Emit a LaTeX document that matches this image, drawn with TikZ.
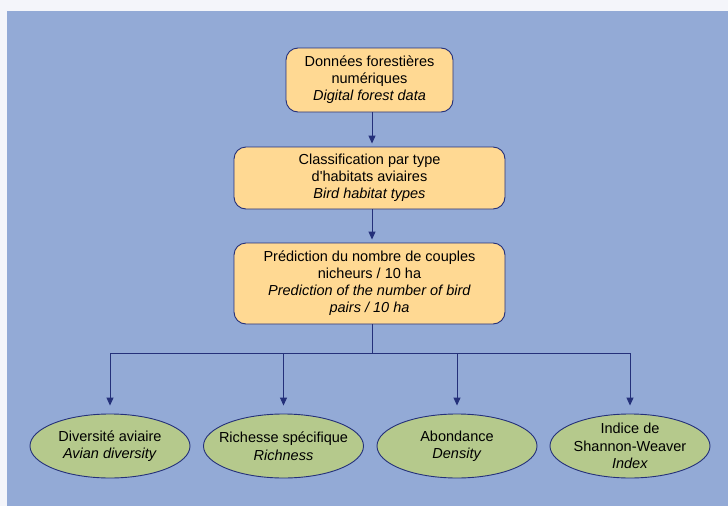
\documentclass[tikz,border=0pt]{standalone}
\usepackage{fontspec}
\setmainfont{Liberation Sans}
\usepackage{tikz}
\usetikzlibrary{calc,shapes,positioning}
\usetikzlibrary{arrows.meta}
\definecolor{pagebg}{HTML}{F4F5FA}
\definecolor{panelbg}{HTML}{93AAD6}
\definecolor{boxfill}{HTML}{FFD993}
\definecolor{ovalfill}{HTML}{B5C98C}
\definecolor{navy}{HTML}{24307A}
\tikzset{>={Triangle[width=7pt,length=8pt]}}

\begin{document}
\begin{tikzpicture}[x=1pt,y=1pt]
      \tikzstyle{pbox} = [draw=navy, line width=0.9pt, fill=boxfill, rounded corners=12pt, align=center, inner sep=2pt, font=\fontsize{14.5}{17}\selectfont]
      \tikzstyle{onode} = [draw=navy, line width=0.9pt, fill=ovalfill, ellipse, align=center, inner xsep=-8pt, inner ysep=-6pt, minimum width=160pt, minimum height=64pt, font=\fontsize{14.5}{17.5}\selectfont]
      \tikzstyle{link} = [navy, line width=1pt]
      % background
      \fill[pagebg] (0,0) rectangle (728,-506);
      \fill[panelbg] (7,-11) rectangle (728,-506);
      \useasboundingbox (0,0) rectangle (728,-506);

      \node[pbox, minimum width=167pt, minimum height=64pt] (fdata) at (369.5,-80) {Données forestières\\numériques\\\textit{Digital forest data}};
      \node[pbox, minimum width=271pt, minimum height=62pt] (habitat) at (369.5,-178) {Classification par type\\d\textquotesingle habitats aviaires\\\textit{Bird habitat types}};
      \node[pbox, minimum width=271pt, minimum height=81pt] (pairs) at (369.5,-283.5) {Prédiction du nombre de couples\\nicheurs / 10 ha\\\textit{Prediction of the number of bird}\\\textit{pairs / 10 ha}};

      \node[onode] (diversity) at (110,-446) {Diversité aviaire\\\textit{Avian diversity}};
      \node[onode] (richness) at (283.5,-446) {Richesse spécifique\\\textit{Richness}};
      \node[onode] (density) at (457,-446) {Abondance\\\textit{Density}};
      \node[onode] (shannon) at (630,-446) {Indice de\\Shannon-Weaver\\\textit{Index}};

      \coordinate (split) at (372,-353);

      \draw[link,->,shorten >=3pt] (fdata.south -| split) -- (habitat.north -| split);
      \draw[link,->,shorten >=3pt] (habitat.south -| split) -- (pairs.north -| split);
      \draw[link] (pairs.south -| split) -- (split);
      \draw[link,->,shorten >=8pt] (split) -| (diversity);
      \draw[link,->,shorten >=8pt] (split) -| (richness);
      \draw[link,->,shorten >=8pt] (split) -| (density);
      \draw[link,->,shorten >=8pt] (split) -| (shannon);
    \end{tikzpicture}
\end{document}
